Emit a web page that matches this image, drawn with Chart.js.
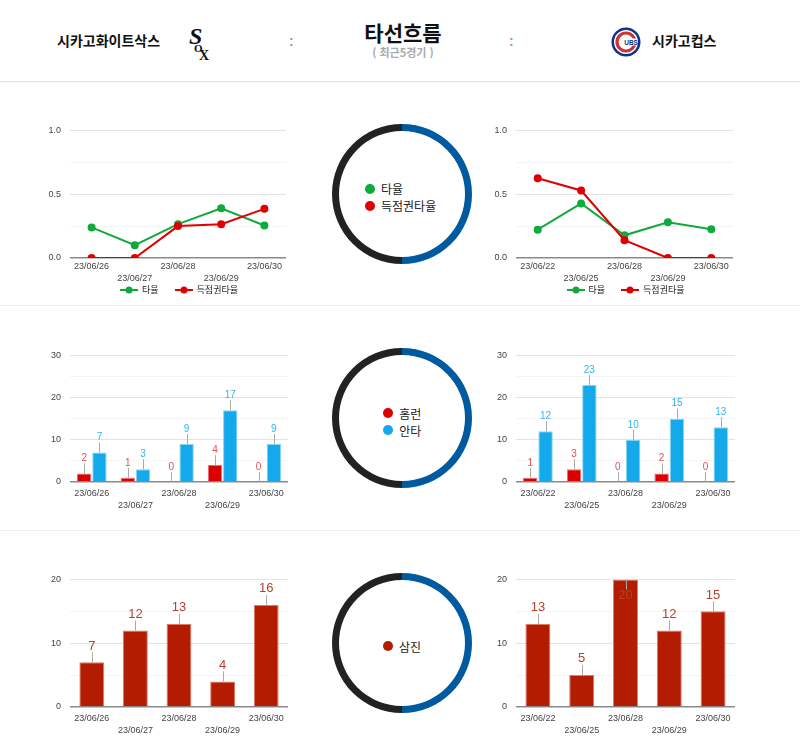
<!DOCTYPE html>
<html lang="ko">
<head>
<meta charset="utf-8">
<script src="https://cdn.jsdelivr.net/npm/chart.js@4.4.0/dist/chart.umd.min.js"></script>
<style>
  body { margin: 0; width: 800px; height: 753px; background: #fff; position: relative; overflow: hidden;
         font-family: "Liberation Sans", Arial, "Noto Sans CJK KR", sans-serif; }
  .abs { position: absolute; }
  .team { font-family: "Noto Sans CJK KR", sans-serif; font-size: 14px; font-weight: bold; color: #111; line-height: 20px; }
  .colon { font-size: 14px; color: #999; font-weight: bold; }
  .rule { left: 0; width: 800px; height: 1px; background: #ececec; }
  .donut-legend { font-family: "Noto Sans CJK KR", sans-serif; font-size: 12px; color: #222; }
  .donut-legend div { display: flex; align-items: center; height: 16.7px; }
  .donut-legend i { display: inline-block; width: 10px; height: 10px; border-radius: 50%; margin-right: 6px; }
  .line-legend { display: flex; justify-content: center; align-items: center; height: 13px;
                 font-family: "Noto Sans CJK KR", sans-serif; font-size: 9px; color: #222; }
  .line-legend span { display: flex; align-items: center; margin: 0 8px; }
  .line-legend canvas { margin-right: 4px; }
</style>
</head>
<body>

<div class="abs team" style="left:57px;top:30px;">시카고화이트삭스</div>
<svg class="abs" style="left:187px;top:25px;" width="28" height="36" viewBox="0 0 28 36">
  <text x="2" y="19" font-family="Liberation Serif" font-weight="bold" font-style="italic" font-size="24" fill="#111">S</text>
  <text x="7" y="27" font-family="Liberation Serif" font-weight="bold" font-size="11" fill="#111">O</text>
  <text x="12" y="35" font-family="Liberation Serif" font-weight="bold" font-size="14" fill="#111">X</text>
</svg>
<div class="abs colon" style="left:289px;top:33px;">:</div>
<div class="abs" style="left:300px;width:206px;top:18px;text-align:center;font-family:'Noto Sans CJK KR',sans-serif;font-size:21px;font-weight:bold;color:#111;line-height:28px;">타선흐름</div>
<div class="abs" style="left:300px;width:206px;top:45px;text-align:center;font-family:'Noto Sans CJK KR',sans-serif;font-size:11px;font-weight:bold;color:#aaa;line-height:15px;">( 최근5경기 )</div>
<div class="abs colon" style="left:509px;top:33px;">:</div>
<svg class="abs" style="left:611px;top:27px;" width="30" height="30" viewBox="0 0 30 30">
  <circle cx="15" cy="15" r="14.5" fill="#0e3386"/>
  <circle cx="15" cy="15" r="12" fill="#fff"/>
  <circle cx="15" cy="15" r="9" fill="none" stroke="#cc3433" stroke-width="3.2"/>
  <rect x="13" y="11.5" width="13" height="7" fill="#fff"/>
  <text x="13.2" y="17.6" font-family="Liberation Sans" font-weight="bold" font-size="6.5" fill="#0e3386">UBS</text>
</svg>
<div class="abs team" style="left:652px;top:30px;">시카고컵스</div>

<div class="abs rule" style="top:81px;background:#e6e6e6;"></div>
<div class="abs rule" style="top:82px;background:#f4f4f4;"></div>
<div class="abs rule" style="top:305px;background:#f0f0f0;"></div>
<div class="abs rule" style="top:530px;background:#f0f0f0;"></div>

<div class="abs donut-legend" style="left:365px;top:180.6px;">
  <div><i style="background:#0fa93c"></i>타율</div>
  <div><i style="background:#e00000"></i>득점권타율</div>
</div>
<div class="abs donut-legend" style="left:383.3px;top:405px;">
  <div><i style="background:#d90000"></i>홈런</div>
  <div><i style="background:#14a9eb"></i>안타</div>
</div>
<div class="abs donut-legend" style="left:383px;top:637.7px;">
  <div><i style="background:#b31c00"></i>삼진</div>
</div>

<script>
// 최근 5경기 날짜
const soxDates = ['23/06/26', '23/06/27', '23/06/28', '23/06/29', '23/06/30'];
const cubsDates = ['23/06/22', '23/06/25', '23/06/28', '23/06/29', '23/06/30'];

// 타율 / 득점권타율
const soxAvg = [0.24, 0.10, 0.265, 0.39, 0.255];
const soxRispAvg = [0, 0, 0.25, 0.265, 0.385];
const cubsAvg = [0.222, 0.427, 0.178, 0.28, 0.225];
const cubsRispAvg = [0.625, 0.529, 0.14, 0, 0];

// 홈런 / 안타
const soxHomers = [2, 1, 0, 4, 0];
const soxHits = [7, 3, 9, 17, 9];
const cubsHomers = [1, 3, 0, 2, 0];
const cubsHits = [12, 23, 10, 15, 13];

// 삼진
const soxStrikeouts = [7, 12, 13, 4, 16];
const cubsStrikeouts = [13, 5, 20, 12, 15];

// 가운데 원 (양 팀 반반)
const donutTeams = ['시카고컵스', '시카고화이트삭스'];
const donutSplit = [50, 50];

const GREEN = '#0fa93c';
const RED = '#e00000';
const BAR_RED = '#d90000';
const BAR_BLUE = '#14a9eb';
const BAR_STRIKE = '#b31c00';

Chart.defaults.font.family = '"Liberation Sans", Arial, "Noto Sans CJK KR", sans-serif';
Chart.defaults.color = '#444';

function makeCanvas(left, top, width, height) {
    const c = document.createElement('canvas');
    c.width = width;
    c.height = height;
    c.style.cssText = `position:absolute;left:${left}px;top:${top}px;width:${width}px;height:${height}px`;
    document.body.appendChild(c);
    return c;
}

function isStep(v, step) {
    return Math.abs(v / step - Math.round(v / step)) < 1e-6;
}

function xAxis(pad) {
    return {
        offset: true,
        grid: { display: false, drawTicks: false },
        border: { display: false },
        ticks: {
            autoSkip: false, maxRotation: 0, minRotation: 0, padding: pad,
            color: '#444', font: { size: 9, lineHeight: 1.28 },
            // 라벨이 겹치지 않게 두 줄로 엇갈려 배치
            callback(value, i) {
                const label = this.getLabelForValue(value);
                return i % 2 ? ['', label] : label;
            }
        },
        afterFit(scale) { scale.height = 26; }
    };
}

function yAxis(max, step, major, fmt) {
    return {
        min: 0, max: max,
        border: { display: false },
        grid: {
            drawTicks: false,
            color: c => c.tick.value === 0 ? '#8a8a8a' : (isStep(c.tick.value, major) ? '#e3e3e3' : '#f4f4f4'),
            lineWidth: c => c.tick.value === 0 ? 1.5 : 1
        },
        ticks: {
            stepSize: step, padding: 9, color: '#444', font: { size: 9 },
            callback: v => isStep(v, major) ? fmt(v) : ''
        },
        afterFit(scale) { scale.width = 50; }
    };
}

// 막대 위 값 표시 (짧은 회색 선 + 숫자)
const barLabels = {
    id: 'barLabels',
    afterDatasetsDraw(chart, args, opts) {
        const ctx = chart.ctx;
        const area = chart.chartArea;
        const half = opts.size * 0.4;
        ctx.save();
        ctx.font = `${opts.size}px "Liberation Sans", Arial, sans-serif`;
        ctx.textAlign = 'center';
        ctx.textBaseline = 'middle';
        chart.data.datasets.forEach((ds, i) => {
            chart.getDatasetMeta(i).data.forEach((bar, j) => {
                const top = bar.y;
                let end = top - opts.stem;
                let textY = end - half - 1;
                if (textY - half < area.top) {
                    end = top + opts.stem;
                    textY = end + half + 1;
                }
                ctx.strokeStyle = '#aaa';
                ctx.lineWidth = 1;
                ctx.beginPath();
                ctx.moveTo(Math.round(bar.x) + 0.5, top);
                ctx.lineTo(Math.round(bar.x) + 0.5, end);
                ctx.stroke();
                ctx.fillStyle = opts.colors[i];
                ctx.fillText(String(ds.data[j]), bar.x, textY);
            });
        });
        ctx.restore();
    }
};

function lineChart(canvas, labels, avg, risp) {
    return new Chart(canvas, {
        type: 'line',
        data: {
            labels: labels,
            datasets: [
                { label: '타율', data: avg, borderColor: GREEN, backgroundColor: GREEN, borderWidth: 2,
                  pointRadius: 4, pointBorderWidth: 0, order: 1 },
                { label: '득점권타율', data: risp, borderColor: RED, backgroundColor: RED, borderWidth: 2,
                  pointRadius: 4, pointBorderWidth: 0, order: 0 }
            ]
        },
        options: {
            responsive: false,
            animation: false,
            layout: { padding: { top: 6, right: 2, left: 0, bottom: 0 } },
            plugins: { legend: { display: false }, tooltip: { enabled: false } },
            scales: {
                x: xAxis(3),
                y: yAxis(1, 0.25, 0.5, v => v.toFixed(1))
            }
        }
    });
}

function barChart(canvas, labels, datasets, max, catPct, barPct, labelOpts) {
    return new Chart(canvas, {
        type: 'bar',
        data: { labels: labels, datasets: datasets },
        plugins: [barLabels],
        options: {
            responsive: false,
            animation: false,
            categoryPercentage: catPct,
            barPercentage: barPct,
            layout: { padding: { top: 6, right: 2, left: 0, bottom: 0 } },
            plugins: { legend: { display: false }, tooltip: { enabled: false }, barLabels: labelOpts },
            scales: {
                x: xAxis(6),
                y: yAxis(max, 5, 10, v => String(v))
            }
        }
    });
}

function htmlLegend(chart, left, width, top) {
    const box = document.createElement('div');
    box.className = 'abs line-legend';
    box.style.cssText = `left:${left}px;width:${width}px;top:${top}px;`;
    chart.data.datasets.forEach(ds => {
        const item = document.createElement('span');
        const icon = document.createElement('canvas');
        icon.width = 18;
        icon.height = 8;
        const g = icon.getContext('2d');
        g.strokeStyle = ds.borderColor;
        g.fillStyle = ds.borderColor;
        g.lineWidth = 2;
        g.beginPath(); g.moveTo(0, 4); g.lineTo(18, 4); g.stroke();
        g.beginPath(); g.arc(9, 4, 3.5, 0, Math.PI * 2); g.fill();
        item.appendChild(icon);
        item.appendChild(document.createTextNode(ds.label));
        box.appendChild(item);
    });
    document.body.appendChild(box);
}

function donut(canvas) {
    return new Chart(canvas, {
        type: 'doughnut',
        data: {
            labels: donutTeams,
            datasets: [{ data: donutSplit, backgroundColor: ['#005aa0', '#222222'], borderWidth: 0 }]
        },
        options: {
            responsive: false,
            animation: false,
            cutout: '90%',
            plugins: { legend: { display: false }, tooltip: { enabled: false } }
        }
    });
}

// 1단: 타율
const soxLine = lineChart(makeCanvas(20, 116, 270, 168), soxDates, soxAvg, soxRispAvg);
const cubsLine = lineChart(makeCanvas(466, 116, 271, 168), cubsDates, cubsAvg, cubsRispAvg);
htmlLegend(soxLine, 70, 218, 283);
htmlLegend(cubsLine, 516, 219, 283);

// 2단: 홈런 / 안타
const hrOpts = { size: 10, stem: 10, colors: ['#e35050', '#33b4f0'] };
barChart(makeCanvas(20, 341, 270, 167), soxDates, [
    { label: '홈런', data: soxHomers, backgroundColor: BAR_RED, borderColor: '#ee6b6b', borderWidth: 1 },
    { label: '안타', data: soxHits, backgroundColor: BAR_BLUE, borderColor: '#86d3f6', borderWidth: 1 }
], 30, 0.7, 0.94, hrOpts);
barChart(makeCanvas(466, 341, 271, 167), cubsDates, [
    { label: '홈런', data: cubsHomers, backgroundColor: BAR_RED, borderColor: '#ee6b6b', borderWidth: 1 },
    { label: '안타', data: cubsHits, backgroundColor: BAR_BLUE, borderColor: '#86d3f6', borderWidth: 1 }
], 30, 0.7, 0.94, hrOpts);

// 3단: 삼진
const soOpts = { size: 13, stem: 10, colors: ['#b5412e'] };
barChart(makeCanvas(20, 565, 270, 168), soxDates, [
    { label: '삼진', data: soxStrikeouts, backgroundColor: BAR_STRIKE, borderColor: '#dc7a66', borderWidth: 1 }
], 20, 0.57, 1, soOpts);
barChart(makeCanvas(466, 565, 271, 168), cubsDates, [
    { label: '삼진', data: cubsStrikeouts, backgroundColor: BAR_STRIKE, borderColor: '#dc7a66', borderWidth: 1 }
], 20, 0.57, 1, soOpts);

// 가운데 원
donut(makeCanvas(332, 124, 140, 140));
donut(makeCanvas(332, 348, 140, 140));
donut(makeCanvas(332, 573, 140, 140));
</script>
</body>
</html>
